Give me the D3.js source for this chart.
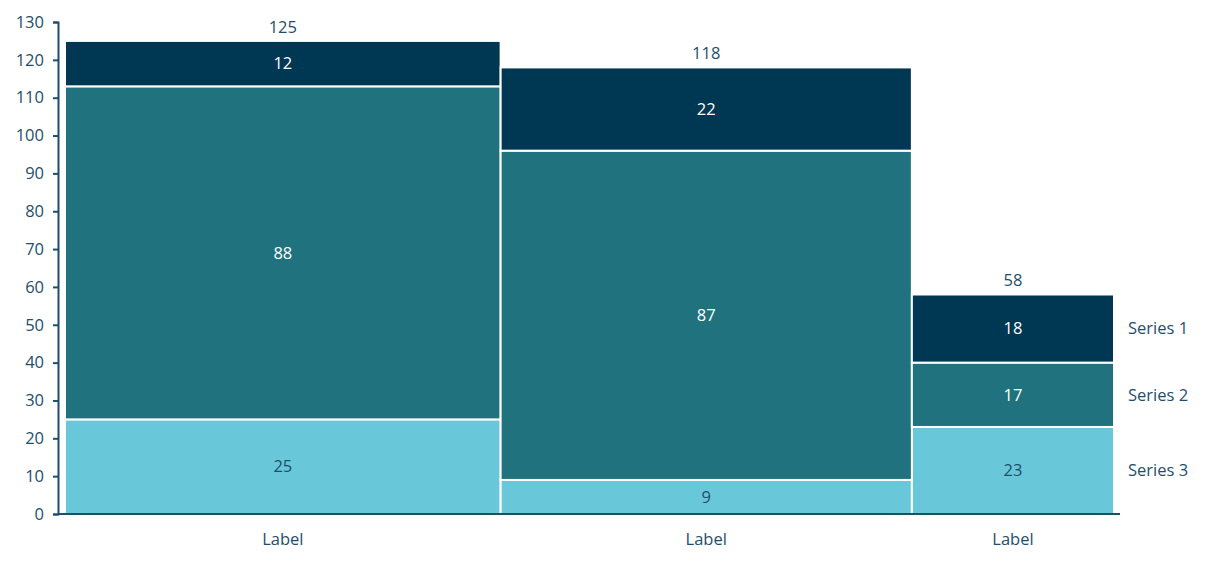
<!DOCTYPE html>
<html>
<head>
<meta charset="utf-8">
<script src="https://cdn.jsdelivr.net/npm/d3@7"></script>
<style>
  body { margin: 0; background: #fff; }
  text { font-family: 'Open Sans', 'Noto Sans', sans-serif; }
</style>
</head>
<body>
<svg></svg>
<script>
// data

const categories = ['Label', 'Label', 'Label'];
const seriesNames = ['Series 1', 'Series 2', 'Series 3'];
const series1 = [12, 22, 18];
const series2 = [88, 87, 17];
const series3 = [25, 9, 23];
const yTicks = [0, 10, 20, 30, 40, 50, 60, 70, 80, 90, 100, 110, 120, 130];

const colors = ['#003753', '#20727e', '#68c8d9'];
const textColor = '#1f4e6b';
const fontSize = '16.5px';

const width = 1205, height = 561;
const margin = { top: 22, right: 91, bottom: 47, left: 58 };
const plotLeft = 65, plotRight = 1114;

const svg = d3.select('svg')
  .attr('width', width)
  .attr('height', height);

// stack from bottom: series 3, series 2, series 1
const rows = categories.map((c, i) => ({
  i,
  label: c,
  s1: series1[i], s2: series2[i], s3: series3[i],
  total: series1[i] + series2[i] + series3[i]
}));

const stack = d3.stack().keys(['s3', 's2', 's1']);
const layers = stack(rows);

// x: cumulative widths proportional to totals
const cum = d3.cumsum(rows, d => d.total);
const grand = cum[cum.length - 1];
rows.forEach((d, i) => { d.x0 = i === 0 ? 0 : cum[i - 1]; d.x1 = cum[i]; });

const xScale = d3.scaleLinear()
  .domain([0, grand])
  .range([plotLeft, plotRight]);

const yScale = d3.scaleLinear()
  .domain([0, 130])
  .range([height - margin.bottom, margin.top]);

const layerColor = { s1: colors[0], s2: colors[1], s3: colors[2] };
const labelColor = { s1: '#ffffff', s2: '#ffffff', s3: textColor };

// bars
layers.forEach(layer => {
  const g = svg.append('g');
  g.selectAll('rect')
    .data(layer)
    .enter()
      .append('rect')
      .attr('x', d => xScale(d.data.x0))
      .attr('width', d => xScale(d.data.x1) - xScale(d.data.x0))
      .attr('y', d => yScale(d[1]))
      .attr('height', d => yScale(d[0]) - yScale(d[1]))
      .style('fill', layerColor[layer.key])
      .style('stroke', '#ffffff')
      .style('stroke-width', 2);

  g.selectAll('text')
    .data(layer)
    .enter()
      .append('text')
      .attr('x', d => (xScale(d.data.x0) + xScale(d.data.x1)) / 2)
      .attr('y', d => (yScale(d[0]) + yScale(d[1])) / 2)
      .attr('dy', '0.35em')
      .attr('text-anchor', 'middle')
      .style('font-size', fontSize)
      .style('fill', labelColor[layer.key])
      .text(d => d.data[layer.key]);
});

// totals
svg.append('g').selectAll('text')
  .data(rows)
  .enter()
    .append('text')
    .attr('x', d => (xScale(d.x0) + xScale(d.x1)) / 2)
    .attr('y', d => yScale(d.total) - 8)
    .attr('text-anchor', 'middle')
    .style('font-size', fontSize)
    .style('fill', textColor)
    .text(d => d.total);

// category labels
svg.append('g').selectAll('text')
  .data(rows)
  .enter()
    .append('text')
    .attr('x', d => (xScale(d.x0) + xScale(d.x1)) / 2)
    .attr('y', height - margin.bottom + 31)
    .attr('text-anchor', 'middle')
    .style('font-size', fontSize)
    .style('fill', textColor)
    .text(d => d.label);

// series labels beside last bar
const last = rows[rows.length - 1];
const seriesKeys = ['s1', 's2', 's3'];
svg.append('g').selectAll('text')
  .data(layers.slice().reverse())
  .enter()
    .append('text')
    .attr('x', xScale(last.x1) + 14)
    .attr('y', d => (yScale(d[last.i][0]) + yScale(d[last.i][1])) / 2)
    .attr('dy', '0.35em')
    .style('font-size', fontSize)
    .style('fill', textColor)
    .text(d => seriesNames[seriesKeys.indexOf(d.key)]);

// y-axis
const yAxis = d3.axisLeft(yScale)
  .tickValues(yTicks)
  .tickSize(5)
  .tickPadding(9)
  .tickSizeOuter(5);

const yAxisG = svg.append('g')
  .attr('transform', `translate(${margin.left},0)`)
  .call(yAxis);

yAxisG.selectAll('path, line')
  .style('stroke', textColor)
  .style('stroke-width', 2);
yAxisG.selectAll('text')
  .style('font-family', "'Open Sans', 'Noto Sans', sans-serif")
  .style('font-size', fontSize)
  .style('fill', textColor);

// baseline
svg.append('line')
  .attr('x1', margin.left)
  .attr('x2', xScale(grand) + 6)
  .attr('y1', yScale(0))
  .attr('y2', yScale(0))
  .style('stroke', textColor)
  .style('stroke-width', 2);
</script>
</body>
</html>
